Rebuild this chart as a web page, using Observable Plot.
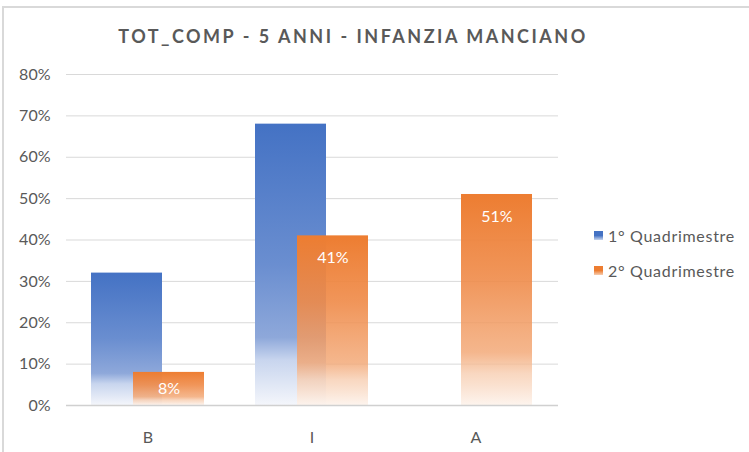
<!DOCTYPE html>
<html>
<head>
<meta charset="utf-8">
<script src="https://cdn.jsdelivr.net/npm/d3@7"></script>
<script src="https://cdn.jsdelivr.net/npm/@observablehq/plot@0.6"></script>
<style>
  html, body { margin: 0; padding: 0; background: #fff; }
  #wrap { position: relative; width: 749px; height: 452px; overflow: hidden; font-family: Lato, "Open Sans", sans-serif; }
  #frame { position: absolute; left: 2px; top: 6px; width: 760px; height: 460px; border-top: 2px solid #D9D9D9; border-left: 2px solid #D9D9D9; }
  #title { position: absolute; left: 0; width: 706px; top: 25px; text-align: center; font-size: 18px; font-weight: bold; color: #595959; letter-spacing: 2.5px; }
  #chart { position: absolute; left: 0; top: 0; }
  #legend { position: absolute; left: 594px; top: 218px; font-size: 16px; color: #595959; letter-spacing: 0.7px; }
  .item { display: flex; align-items: center; height: 35px; }
  .sw { width: 9px; height: 9px; margin-right: 5px; }
</style>
</head>
<body>
<div id="wrap">
  <div id="frame"></div>
  <div id="chart"></div>
  <div id="title"></div>
  <div id="legend"></div>
</div>
<script>
const title = "TOT_COMP - 5 ANNI - INFANZIA MANCIANO";
const categories = ["B", "I", "A"];
const series = ["1° Quadrimestre", "2° Quadrimestre"];
const q1 = [0.32, 0.68, 0];
const q2 = [0.08, 0.41, 0.51];
const yTicks = [0, 0.1, 0.2, 0.3, 0.4, 0.5, 0.6, 0.7, 0.8];

const d1 = categories.map((c, i) => ({cat: c, value: q1[i], series: series[0]}));
const d2 = categories.map((c, i) => ({cat: c, value: q2[i], series: series[1]}));

const W = 749, H = 452;
const plot = Plot.plot({
  width: W,
  height: H,
  marginLeft: 66,
  marginRight: 191,
  marginTop: 74,
  marginBottom: 47,
  style: {fontFamily: "Lato, 'Open Sans', sans-serif", fontSize: "16px", color: "#595959", background: "transparent"},
  x: {domain: categories, paddingInner: 0.567, paddingOuter: 0.2835, label: null, tickSize: 0, tickPadding: 26},
  y: {domain: [0, 0.8], ticks: yTicks, tickFormat: d3.format(".0%"), label: null, tickSize: 0, tickPadding: 16},
  marks: [
    Plot.gridY(yTicks, {stroke: "#D9D9D9", strokeOpacity: 1, strokeWidth: 1}),
    Plot.barY(d1, {x: "cat", y: "value", dx: -21, fill: "url(#gBlue)"}),
    Plot.barY(d2, {x: "cat", y: "value", dx: 21, fill: "url(#gOrange)"}),
    Plot.text(d2, {x: "cat", y: d => Math.max(d.value - 0.053, d.value / 2), dx: 21, text: d => d3.format(".0%")(d.value), fill: "white", fontSize: 16}),
    Plot.ruleY([0], {stroke: "#D0D0D0", strokeWidth: 1.5})
  ]
});

// gradients
const svg = d3.select(plot);
const defs = svg.insert("defs", ":first-child");
function grad(id, stops) {
  const g = defs.append("linearGradient").attr("id", id).attr("x1", 0).attr("y1", 0).attr("x2", 0).attr("y2", 1);
  stops.forEach(([o, c, a]) => g.append("stop").attr("offset", o).attr("stop-color", c).attr("stop-opacity", a));
}
grad("gBlue", [[0, "#4472C4", 1], [0.5, "#6A8ED0", 1], [0.76, "#8EA8DA", 1], [0.84, "#C8D5EE", 1], [1, "#F4F6FB", 1]]);
grad("gOrange", [[0, "#ED7D31", 1], [0.4, "#EF8A48", 0.9], [0.75, "#F2A470", 0.8], [0.85, "#F7CDB0", 0.8], [1, "#FDF3EC", 0.9]]);

document.getElementById("chart").appendChild(plot);
document.getElementById("title").textContent = title;

const colors = [["#4472C4", "#C8D5EE"], ["#ED7D31", "#F7CDB0"]];
const legend = document.getElementById("legend");
series.forEach((s, i) => {
  const it = document.createElement("div");
  it.className = "item";
  const sw = document.createElement("div");
  sw.className = "sw";
  sw.style.background = `linear-gradient(${colors[i][0]} 0%, ${colors[i][0]} 50%, ${colors[i][1]} 100%)`;
  const t = document.createElement("span");
  t.textContent = s;
  it.appendChild(sw); it.appendChild(t);
  legend.appendChild(it);
});
</script>
</body>
</html>
